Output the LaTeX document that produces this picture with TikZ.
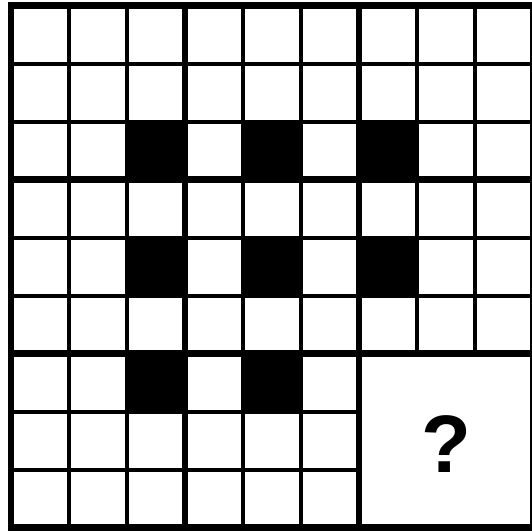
\documentclass[tikz,border=0pt]{standalone}
\usepackage{fontspec}
\setmainfont{Liberation Sans}

\begin{document}
\begin{tikzpicture}[thinrule/.style={line width=1.7pt},thickrule/.style={line width=3.4pt},every node/.style={font=\fontsize{40}{48}\selectfont\bfseries}]
  \useasboundingbox (-0.19,-0.052) rectangle (8.983,9.103);
  % shaded cells
  \foreach \c/\r in {2/6,4/6,6/6,2/4,4/4,6/4,2/2,4/2}
    \fill (\c,\r) rectangle ++(1,1);
  % thin rules
  \foreach \i in {1,2,4,5}
    \draw[thinrule] (\i,0) -- (\i,9);
  \foreach \i in {7,8}
    \draw[thinrule] (\i,3) -- (\i,9);
  \foreach \i in {4,5,7,8}
    \draw[thinrule] (0,\i) -- (9,\i);
  \foreach \i in {1,2}
    \draw[thinrule] (0,\i) -- (6,\i);
  % block rules
  \foreach \i in {3,6} {
    \draw[thickrule] (\i,0) -- (\i,9);
    \draw[thickrule] (0,\i) -- (9,\i);
  }
  \draw[thickrule] (0,0) rectangle (9,9);
  \node (q) at (7.5,1.45) {?};
\end{tikzpicture}
\end{document}
